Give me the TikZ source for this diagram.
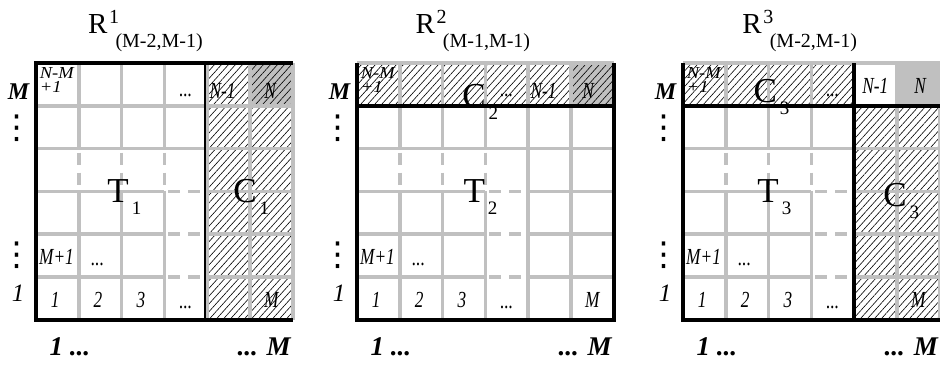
\documentclass[tikz,border=0pt]{standalone}
\usepackage{fontspec}
\setmainfont{Liberation Serif}
\newfontfamily\cellfont{Liberation Serif Italic}[FakeStretch=0.75]
\newfontfamily\widefont{Liberation Serif Italic}[FakeStretch=1.1]
\newfontfamily\symfont{DejaVu Sans}
\usetikzlibrary{patterns.meta}
\definecolor{gridgray}{RGB}{192,192,192}
\newcommand{\rtitle}[2]{R\rlap{\raisebox{5pt}{\hspace{0.8pt}\fontsize{10}{10}\selectfont #1}}\raisebox{-7pt}{\hspace{4pt}\fontsize{10}{10}\selectfont #2}}
\newcommand{\lowsub}[1]{\raisebox{-6pt}{\hspace{1.5pt}\fontsize{9.5}{9.5}\selectfont #1}}
\tikzset{
  panel/.style={shift={(#1,63)}, x=21.4pt, y=-21.4pt},
  gridline/.style={draw=gridgray, line width=1.8pt},
  dotline/.style={gridline, dash pattern=on 6pt off 4pt, dash phase=8pt},
  frame/.style={draw=black, line width=2.2pt, line join=miter},
  hatch/.style={pattern={Lines[angle=48, distance=2.6pt, line width=0.3pt]}},
  cell/.style={font=\fontsize{11.5}{11.5}\cellfont, inner sep=0pt},
  corner/.style={font=\fontsize{8.4}{7}\widefont, align=left, anchor=north west, inner sep=0pt},
  axis/.style={font=\fontsize{12}{12}\selectfont\bfseries\itshape, inner sep=0pt},
  vdot/.style={font=\fontsize{16.5}{16.5}\symfont, inner sep=0pt},
  bottom/.style={font=\fontsize{13.5}{13.5}\selectfont\bfseries\itshape, inner sep=0pt},
  part/.style={font=\fontsize{17.5}{17.5}\selectfont, anchor=base west, inner sep=0pt},
  title/.style={font=\fontsize{14.5}{14.5}\selectfont, anchor=base west, inner sep=0pt},
}

\begin{document}
\begin{tikzpicture}[x=0.5pt, y=-0.5pt]
  \useasboundingbox (0,0) rectangle (940,365);
  % shading and hatching
  \begin{scope}[panel=36]
    \fill[gridgray] (5,0) rectangle (6,1);
    \fill[hatch] (4,0) rectangle (6,6);
  \end{scope}
  \begin{scope}[panel=357]
    \fill[gridgray] (5,0) rectangle (6,1);
    \fill[hatch] (0,0) rectangle (6,1);
  \end{scope}
  \begin{scope}[panel=683]
    \fill[gridgray] (5,0) rectangle (6,1);
    \fill[hatch] (0,0) rectangle (4,1) (4,1) rectangle (6,6);
  \end{scope}
  % gray grid and texts, the same in every panel
  \foreach \p/\xo in {1/36, 2/357, 3/683} {
    \begin{scope}[panel=\xo]
      \foreach \j in {0,1,2,6} \draw[gridline] (0,\j) -- (6,\j);
      \foreach \j in {3,4,5} {
        \draw[gridline] (0,\j) -- (3,\j) (4,\j) -- (6,\j);
        \draw[dotline] (3,\j) -- (4,\j);
      }
      \foreach \i in {0,4,5,6} \draw[gridline] (\i,0) -- (\i,6);
      \foreach \i in {1,2,3} {
        \draw[gridline] (\i,0) -- (\i,2) (\i,3) -- (\i,6);
        \draw[dotline] (\i,2) -- (\i,3);
      }
      \node[corner] (nm\p) at (0.08,0.09) {N-M\\+1};
      \node[cell, anchor=base] (dta\p) at (3.5,0.78) {...};
      \node[cell] (mp\p) at (0.48,4.54) {M+1};
      \node[cell, anchor=base] (dtb\p) at (1.44,4.72) {...};
      \foreach \k in {1,2,3}
        \node[cell] (n\k\p) at (\k-0.55,5.54) {\k};
      \node[cell, anchor=base] (dtc\p) at (3.5,5.73) {...};
      \node[cell] (mm\p) at (5.5,5.53) {M};
      % row and column labels
      \node[axis] (lm\p) at (-0.41,0.66) {M};
      \node[vdot] (va\p) at (-0.45,1.53) {⋮};
      \node[vdot] (vb\p) at (-0.45,4.5) {⋮};
      \node[axis, font=\fontsize{12.5}{12.5}\selectfont\itshape] (lo\p) at (-0.42,5.37) {1};
      \node[bottom] (bl\p) at (0.79,6.64) {1 ...};
      \node[bottom] (br\p) at (5.33,6.64) {... M};
    \end{scope}
  }
  % panel 1
  \begin{scope}[panel=36]
    \draw[frame] (6,0) -- (0,0) -- (0,6) -- (6,6);
    \draw[line width=1.2pt] ([xshift=-1pt]4,0) -- ([xshift=-1pt]4,6);
    \node[cell] (na1) at (4.36,0.65) {N-1};
    \node[cell] (nb1) at (5.47,0.65) {N};
    \node[part] (t1) at (1.66,3.27) {T\lowsub{1}};
    \node[part] (c1) at (4.6,3.25) {C\lowsub{1}};
    \node[title] (r1) at (1.21,-0.7) {\rtitle{1}{(M-2,M-1)}};
  \end{scope}
  % panel 2
  \begin{scope}[panel=357]
    \draw[frame] (0,0) -- (0,6) -- (6,6) -- (6,0);
    \draw[frame] (0,1) -- (6,1);
    \node[cell] (na2) at (4.36,0.65) {N-1};
    \node[cell] (nb2) at (5.4,0.65) {N};
    \node[part] (t2) at (2.48,3.27) {T\lowsub{2}};
    \node[part] (c2) at (2.45,1.03) {C\lowsub{2}};
    \node[title] (r2) at (1.36,-0.7) {\rtitle{2}{(M-1,M-1)}};
  \end{scope}
  % panel 3
  \begin{scope}[panel=683]
    \draw[frame] (0,0) -- (0,6) -- (6,6);
    \draw[frame] (0,1) -- (6,1);
    \draw[frame] (4,0) -- (4,6);
    \node[cell] (na3) at (4.49,0.53) {N-1};
    \node[cell] (nb3) at (5.54,0.53) {N};
    \node[part] (t3) at (1.73,3.27) {T\lowsub{3}};
    \node[part] (c3a) at (1.64,0.93) {C\lowsub{3}};
    \node[part] (c3b) at (4.67,3.36) {C\lowsub{3}};
    \node[title] (r3) at (1.38,-0.7) {\rtitle{3}{(M-2,M-1)}};
  \end{scope}
\end{tikzpicture}
\end{document}
